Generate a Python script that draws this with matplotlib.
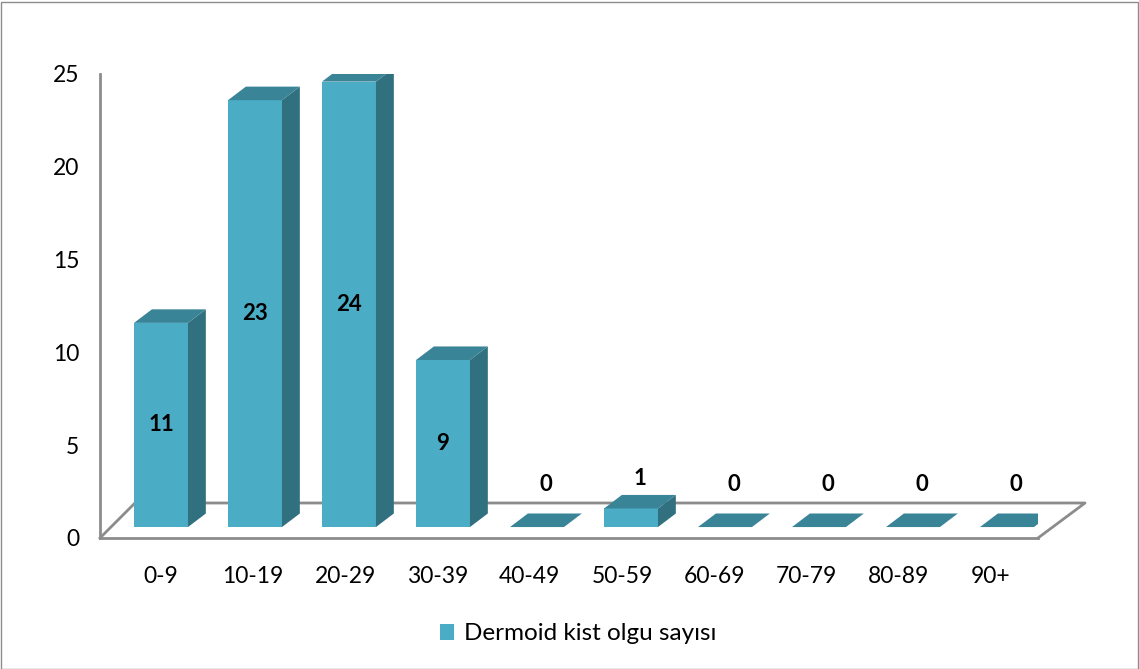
import matplotlib
matplotlib.use('Agg')
import matplotlib.pyplot as plt
from matplotlib.patches import Polygon, Rectangle, Patch

categories = ['0-9', '10-19', '20-29', '30-39', '40-49',
              '50-59', '60-69', '70-79', '80-89', '90+']
counts = [11, 23, 24, 9, 0, 1, 0, 0, 0, 0]
series_name = 'Dermoid kist olgu sayısı'
y_ticks = [0, 5, 10, 15, 20, 25]

front_col = '#4BACC6'
top_col = '#3A8497'
side_col = '#31707F'
wall_col = '#8C8C8C'

plt.rcParams['font.family'] = ['Lato', 'DejaVu Sans']

W, H = 1139, 669
fig = plt.figure(figsize=(W / 100, H / 100), dpi=100)
ax = fig.add_axes([100 / W, (H - 538) / H, 938 / W, 464 / H])
ax.set_xlim(-0.649, 9.33)
ax.set_ylim(0, 25)

half_w = 0.287          # half width of a bar's front face
dep_x, dep_y = 0.19, 0.73   # oblique depth of each bar
base = 0.59             # bars stand a little behind the floor's front edge

# floor outline (front edge is the bottom spine)
x0, x1 = ax.get_xlim()
floor_dy = 1.886
ax.plot([x0, x0 + 0.372, x1 + 0.5, x1], [0, floor_dy, floor_dy, 0],
        color=wall_col, lw=2, clip_on=False, zorder=1)

for i, v in enumerate(counts):
    l, r = i - half_w, i + half_w
    b, t = base, base + v
    if v > 0:
        ax.add_patch(Polygon([(l, b), (r, b), (r, t), (l, t)],
                             closed=True, fc=front_col, ec='none', zorder=3))
        ax.add_patch(Polygon([(r, b), (r + dep_x, b + dep_y),
                              (r + dep_x, t + dep_y), (r, t)],
                             closed=True, fc=side_col, ec='none', zorder=3))
    ax.add_patch(Polygon([(l, t), (r, t), (r + dep_x, t + dep_y),
                          (l + dep_x, t + dep_y)],
                         closed=True, fc=top_col, ec='none', zorder=3))
    if v >= 3:
        ax.text(i, base + v / 2, str(v), ha='center', va='center',
                fontsize=16, fontweight='bold', zorder=5)
    else:
        ax.text(i + dep_x / 2, base + max(2.3, v + 1.6), str(v),
                ha='center', va='center', fontsize=16, fontweight='bold',
                zorder=5)

for side in ['top', 'right']:
    ax.spines[side].set_visible(False)
for side in ['left', 'bottom']:
    ax.spines[side].set_color(wall_col)
    ax.spines[side].set_linewidth(2)

ax.set_yticks(y_ticks)
ax.set_xticks([i * 0.981 for i in range(len(categories))])
ax.set_xticklabels(categories)
ax.tick_params(axis='y', length=0, pad=15, labelsize=16.5)
ax.tick_params(axis='x', length=0, pad=20, labelsize=16.5)
ax.set_facecolor('none')

fig.legend(handles=[Patch(fc=front_col, ec='none', label=series_name)],
           loc='center', bbox_to_anchor=(578 / W, (H - 634) / H),
           frameon=False, fontsize=17.5, handlelength=0.6, handleheight=0.6,
           handletextpad=0.4)

fig.patches.append(Rectangle((0.5 / W, 0.5 / H), 1 - 2 / W, 1 - 2 / H,
                             transform=fig.transFigure, fill=False,
                             ec=wall_col, lw=1))

fig.savefig('out.png', dpi=100)
